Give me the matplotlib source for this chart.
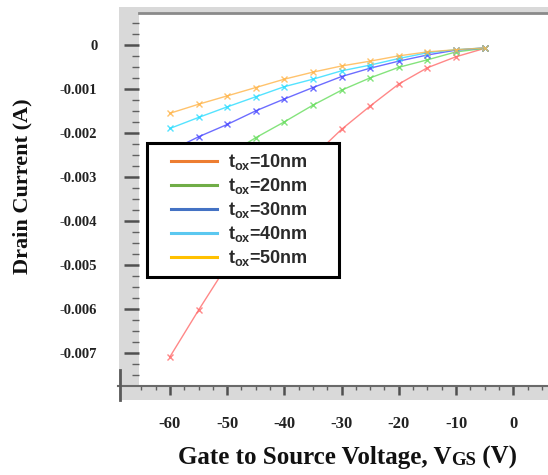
import matplotlib
matplotlib.use("Agg")
import matplotlib.pyplot as plt
from matplotlib.patches import Rectangle
from matplotlib.lines import Line2D
from matplotlib.ticker import MultipleLocator, FixedLocator

plt.rcParams['mathtext.fontset'] = 'custom'
plt.rcParams['mathtext.bf'] = 'Liberation Sans:bold'
plt.rcParams['mathtext.rm'] = 'Liberation Sans:bold'

# ---------------- data ----------------
vgs = [-60, -55, -50, -45, -40, -35, -30, -25, -20, -15, -10, -5]
id_10nm = [-0.00708, -0.00602, -0.00500, -0.00408, -0.00325, -0.00253, -0.00191, -0.00138, -0.00088, -0.00051, -0.00026, -0.00007]
id_20nm = [-0.00335, -0.00292, -0.00250, -0.00210, -0.00174, -0.00136, -0.00102, -0.00074, -0.00050, -0.00033, -0.00015, -0.00007]
id_30nm = [-0.00240, -0.00208, -0.00180, -0.00149, -0.00122, -0.00096, -0.00071, -0.00052, -0.00036, -0.00022, -0.00011, -0.00006]
id_40nm = [-0.00189, -0.00164, -0.00140, -0.00117, -0.00094, -0.00077, -0.00058, -0.00045, -0.00030, -0.00017, -0.00010, -0.00006]
id_50nm = [-0.001545, -0.00134, -0.00115, -0.00096, -0.00077, -0.00061, -0.00047, -0.00036, -0.00024, -0.00015, -0.00010, -0.00006]
series = [id_10nm, id_20nm, id_30nm, id_40nm, id_50nm]
labels = [r"t$_{\mathbf{ox}}$=10nm", r"t$_{\mathbf{ox}}$=20nm", r"t$_{\mathbf{ox}}$=30nm",
          r"t$_{\mathbf{ox}}$=40nm", r"t$_{\mathbf{ox}}$=50nm"]
line_colors = ['#ff6a6a', '#66dd5c', '#4848ff', '#2adcff', '#ffb448']
legend_colors = ['#ed7d31', '#70ad47', '#4472c4', '#5bc8f0', '#ffc000']

x_major = [-60, -50, -40, -30, -20, -10, 0]
x_labels = ['-60', '-50', '-40', '-30', '-20', '-10', '0']
y_major = [0, -0.001, -0.002, -0.003, -0.004, -0.005, -0.006, -0.007]
y_labels = ['0', '-0.001', '-0.002', '-0.003', '-0.004', '-0.005', '-0.006', '-0.007']

W, H = 548, 475
fig = plt.figure(figsize=(W / 100, H / 100), dpi=100)


def fx(p):
    return p / W


def fy(p):
    return 1 - p / H


# gray frame band
fig.patches.append(Rectangle((fx(119), fy(400)), 1.0, (400 - 7) / H, transform=fig.transFigure,
                             facecolor='#d9d9d9', edgecolor='none', zorder=-5))

ax = fig.add_axes([fx(139), fy(386), (559 - 139) / W, (386 - 13) / H])
ax.set_facecolor('white')

for ys, c in zip(series, line_colors):
    ax.plot(vgs, ys, color=c, lw=1.0, alpha=0.8, marker='x', ms=5, mew=1.0, zorder=2)

ax.set_xlim(-65.4, 8.0)
ax.set_ylim(-0.007743, 0.000734)

ax.xaxis.set_major_locator(FixedLocator(x_major))
ax.set_xticklabels(x_labels)
ax.xaxis.set_minor_locator(MultipleLocator(2.5))
ax.yaxis.set_major_locator(FixedLocator(y_major))
ax.set_yticklabels(y_labels)
ax.yaxis.set_minor_locator(MultipleLocator(0.00025))

ax.tick_params(axis='x', which='major', direction='out', length=6.5, width=1.8, color='#505050',
               pad=15, labelsize=12)
ax.tick_params(axis='x', which='minor', direction='out', length=3, width=1.0, color='#606060')
ax.tick_params(axis='y', which='major', direction='out', length=11, width=1.8, color='#505050',
               pad=19, labelsize=10.5)
ax.tick_params(axis='y', which='minor', direction='out', length=5, width=1.0, color='#606060')
for lab in ax.get_xticklabels() + ax.get_yticklabels():
    lab.set_fontfamily('Liberation Serif')
    lab.set_fontweight('bold')
    lab.set_color('#222222')

ax.spines['left'].set_visible(False)
ax.spines['right'].set_visible(False)
ax.spines['top'].set_color('#8a8a8a')
ax.spines['top'].set_linewidth(2.0)
ax.spines['bottom'].set_visible(False)

# bottom dark line and small vertical mark in the frame
fig.add_artist(Line2D([fx(118), 1.0], [fy(386), fy(386)], transform=fig.transFigure,
                      color='#6a6a6a', lw=1.5))
fig.add_artist(Line2D([fx(120), fx(120)], [fy(370), fy(400)], transform=fig.transFigure,
                      color='#5a5a5a', lw=2))

# legend box
ax.add_patch(Rectangle((fx(147), fy(277)), (339 - 147) / W, (277 - 143) / H, transform=fig.transFigure,
                       facecolor='white', edgecolor='black', lw=2.2, zorder=4, clip_on=False))
handles = [Line2D([], [], color=c, lw=2.2) for c in legend_colors]
leg = ax.legend(handles, labels, loc='upper left', bbox_to_anchor=(fx(171), fy(152)),
                bbox_transform=fig.transFigure, frameon=False, borderpad=0, borderaxespad=0,
                handlelength=2.55, handletextpad=0.6, labelspacing=0.22,
                prop={'family': 'Liberation Sans', 'weight': 'bold', 'size': 13})
leg.set_zorder(5)
for t in leg.get_texts():
    t.set_color('#2a2a2a')

# axis labels
fig.text(fx(22), fy(186), 'Drain Current (A)', rotation=90, ha='center', va='center',
         family='Liberation Serif', weight='bold', size=16, color='#111111')

renderer = fig.canvas.get_renderer()
t1 = fig.text(fx(178), fy(464), 'Gate to Source Voltage, V', ha='left', va='baseline',
              family='Liberation Serif', weight='bold', size=18, color='#111111')
bb = t1.get_window_extent(renderer)
t2 = fig.text(bb.x1 / W, fy(465), 'GS', ha='left', va='baseline',
              family='Liberation Serif', weight='bold', size=13.5, color='#111111')
bb2 = t2.get_window_extent(renderer)
fig.text(bb2.x1 / W, fy(464), ' (V)', ha='left', va='baseline',
         family='Liberation Serif', weight='bold', size=18, color='#111111')

fig.savefig('out.png', dpi=100)
